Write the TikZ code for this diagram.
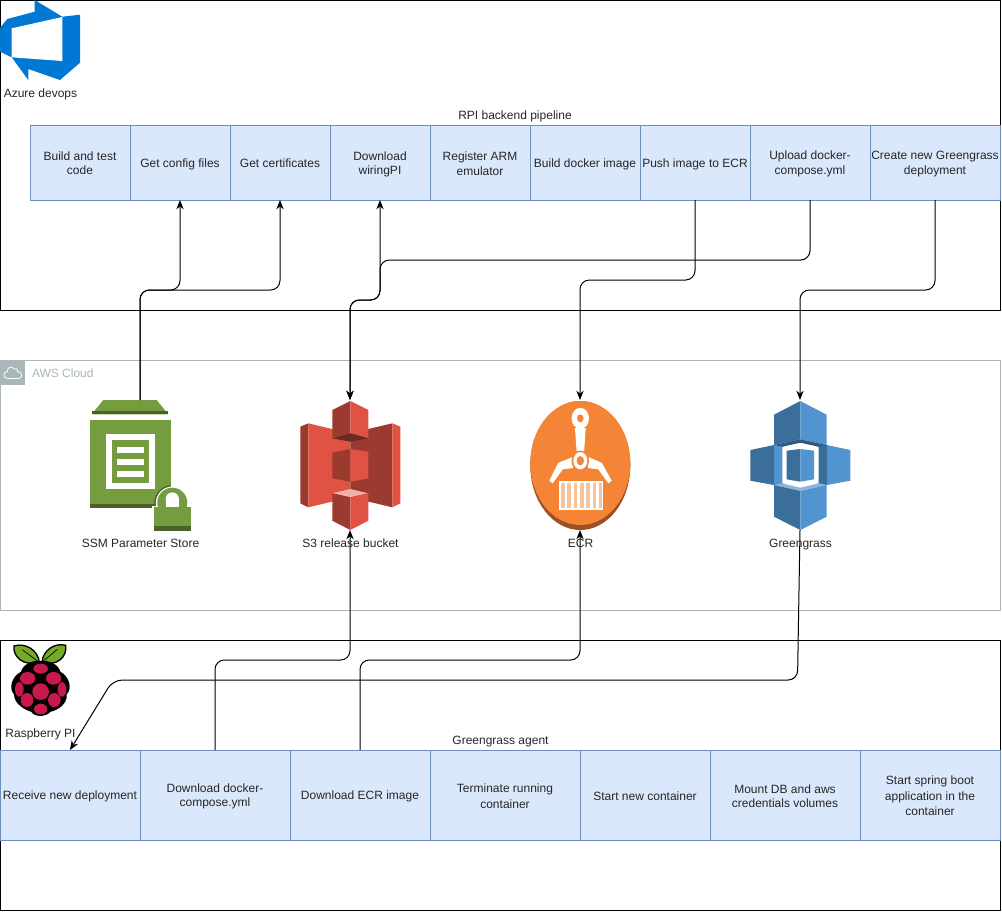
\documentclass[tikz,border=0pt]{standalone}
\usepackage{fontspec}
\setmainfont{Liberation Sans}
\usetikzlibrary{arrows.meta}
\definecolor{boxfill}{HTML}{DAE8FC}
\definecolor{boxline}{HTML}{6C8EBF}
\definecolor{awsgrey}{HTML}{AAB7B8}
\definecolor{azblue}{HTML}{0078D4}
\definecolor{ssmg}{HTML}{759C3E}
\definecolor{ssmd}{HTML}{4B612C}
\definecolor{s3l}{HTML}{E05243}
\definecolor{s3d}{HTML}{9B3A2E}
\definecolor{s3x}{HTML}{6B2A22}
\definecolor{s3p}{HTML}{F2B0A9}
\definecolor{ecro}{HTML}{F58536}
\definecolor{ecrd}{HTML}{9D5025}
\definecolor{ecrp}{HTML}{FBC399}
\definecolor{ggl}{HTML}{5294CF}
\definecolor{ggd}{HTML}{3B6E9B}
\definecolor{ggx}{HTML}{2E5A82}
\definecolor{ggp}{HTML}{8DB6DF}
\definecolor{rpg}{HTML}{75A928}
\definecolor{rpr}{HTML}{C51A4A}
\newcommand{\tl}{\rule[-0.8pt]{0pt}{9.6pt}}
\tikzset{
  x=0.75pt,y=-0.75pt,
  every node/.style={font=\fontsize{9}{10.5}\selectfont,align=center,inner sep=0pt,outer sep=0pt,text=black!85},
  frame/.style={draw=black,line width=0.75pt},
  awsframe/.style={draw=awsgrey,line width=0.75pt},
  procbox/.style={draw=boxline,fill=boxfill,line width=0.75pt,minimum width=#1*0.75pt},
  toprow/.style={procbox=#1,minimum height=56.25pt},
  botrow/.style={procbox=#1,minimum height=67.5pt},
  iconbox/.style={minimum width=75pt,minimum height=97.5pt},
  conn/.style={draw=black,line width=0.75pt,rounded corners=7pt,-{Stealth[length=7pt,width=5.5pt]}},
  conntwo/.style={draw=black,line width=0.75pt,rounded corners=7pt,{Stealth[length=7pt,width=5.5pt]}-{Stealth[length=7pt,width=5.5pt]}}
}
\begin{document}
\begin{tikzpicture}
\useasboundingbox (0,0) rectangle (1002,911);
\fill[white] (0,0) rectangle (1002,911);
% containers
\draw[frame] (0.5,0.5) rectangle (1000.5,310.5);
\draw[awsframe] (0.5,360.5) rectangle (1000.5,610.5);
\draw[frame] (0.5,640.5) rectangle (1000.5,910.5);
% Azure icon
\fill[azblue] (34.7,0)--(62.3,16.7)--(80,14.7)--(80,62.7)--(60,80)--(28.3,69)--(28.3,80)--(11.7,57.3)--(0,51.7)--(0,28)--(7.3,19)--(34.7,11.7)--cycle;
\fill[white] (11.7,28.3)--(62.3,17)--(62.3,61)--(11.7,57.3)--cycle;
% AWS tab
\fill[awsgrey] (0,360) rectangle (25,385);
\draw[white,line width=0.6pt] (7.5,371.5) .. controls (7,367) and (12,365.5) .. (14,369) .. controls (16,367.5) and (18.5,369) .. (17.5,371.5) .. controls (23,372) and (23,378.5) .. (18,378.5) -- (8,378.5) .. controls (2.5,378.5) and (2.5,372) .. (7.5,371.5) -- cycle;
% SSM icon
\node[iconbox] (ssm) at (140,465) {};
\fill[ssmg] (91.7,414.3)--(103.3,400)--(156.7,400)--(168.3,414.3)--cycle;
\fill[ssmd] (91.7,411)--(168.3,411)--(168.3,414.3)--(91.7,414.3)--cycle;
\fill[ssmg] (90,420) rectangle (170.7,504);
\fill[ssmd] (90,504) rectangle (170.7,508);
\fill[white] (106,434.3) rectangle (155.3,489);
\fill[ssmg] (111.7,440) rectangle (149.3,483.3);
\fill[white] (116.7,447) rectangle (144.3,452.7);
\fill[white] (116.7,459) rectangle (144.3,464.7);
\fill[white] (116.7,471) rectangle (144.3,477);
\begin{scope}
\clip (90,420) rectangle (170.7,508);
\fill[ssmd] (172.3,503) circle[radius=18];
\end{scope}
\fill[white] (172.3,503) circle[radius=16.5];
\fill[white] (152,506) rectangle (170.7,508.5);
\fill[ssmg] (172.3,502.7) circle[radius=15];
\fill[ssmg] (154,506.7) rectangle (190.7,526.3);
\fill[ssmd] (154,526.3) rectangle (190.7,530.7);
\fill[white] (172.3,499) circle[radius=6.7];
\fill[white] (165.6,499) rectangle (179,506.7);
% S3 icon
\node[iconbox] (s3) at (350,465) {};
\fill[s3d] (300.3,426.7)--(308.3,423.3)--(308.3,507.3)--(300.3,503.3)--cycle;
\fill[s3l] (308.3,423.3)--(350.3,433.3)--(350.3,497.3)--(308.3,507.3)--cycle;
\fill[s3d] (392.3,423.3)--(350.3,433.3)--(350.3,497.3)--(392.3,507.3)--cycle;
\fill[s3l] (392.3,423.3)--(400.3,426.7)--(400.3,503.3)--(392.3,507.3)--cycle;
\fill[s3d] (332.3,410)--(350.3,401)--(350.3,433.3)--(332.3,438.3)--cycle;
\fill[s3l] (368.3,410)--(350.3,401)--(350.3,433.3)--(368.3,438.3)--cycle;
\fill[s3x] (332.3,438.3)--(350.3,433.3)--(368.3,438.3)--(350.3,441.7)--cycle;
\fill[s3d] (332.3,452.7)--(350.3,449)--(350.3,481.7)--(332.3,478.3)--cycle;
\fill[s3l] (368.3,451.7)--(350.3,449)--(350.3,481.7)--(368.3,478.3)--cycle;
\fill[s3p] (332.3,493.3)--(350.3,489)--(368.3,493.3)--(350.3,497.3)--cycle;
\fill[s3d] (332.3,493.3)--(350.3,497.3)--(350.3,530)--(332.3,520.7)--cycle;
\fill[s3l] (368.3,493.3)--(350.3,497.3)--(350.3,530)--(368.3,520.7)--cycle;
% ECR icon
\node[iconbox] (ecr) at (580,465) {};
\fill[ecrd] (580.3,465.5) circle[x radius=50,y radius=64.5];
\fill[ecro] (580.3,463) circle[x radius=50,y radius=62];
\fill[white] (580.3,418.3) circle[x radius=8.7,y radius=10.5];
\fill[ecro] (580.3,418.3) circle[x radius=3.3,y radius=4];
\fill[white] (575,428)--(585.7,428)--(584,453.3)--(576.7,453.3)--cycle;
\fill[white] (573,457)--(558.3,462.7)--(549.3,480.7)--(552.7,483.3)--(562.7,469.3)--(573,468)--cycle;
\fill[white] (588,457)--(601.7,462.7)--(611.7,480.7)--(608.3,483.3)--(598.3,469.3)--(588,468)--cycle;
\fill[ecro] (580.3,460.7) circle[x radius=8.8,y radius=10.2];
\fill[white] (580.3,460.7) circle[x radius=7,y radius=8.6];
\fill[ecro] (580.3,460.7) circle[x radius=3.7,y radius=4.7];
\fill[white] (559,480.7) rectangle (602.7,510);
\foreach \sx in {561,567.3,573.6,579.9,586.2,592.5,598.8} {\fill[ecrp] (\sx,482.7) rectangle ++(3.6,25.3);}
% Greengrass icon
\node[iconbox] (gg) at (800,465) {};
\fill[ggd] (750.3,450)--(774,445)--(774,485)--(750.3,480.7)--cycle;
\fill[ggl] (850.3,450)--(826.7,445)--(826.7,485)--(850.3,480.7)--cycle;
\fill[ggd] (774,414.7)--(800.3,401)--(800.3,439.3)--(774,445)--cycle;
\fill[ggl] (826.7,414.7)--(800.3,401)--(800.3,439.3)--(826.7,445)--cycle;
\fill[ggl] (774,445) rectangle (785,485);
\fill[ggd] (815,445) rectangle (826.7,485);
\fill[white] (782.3,446.7)--(800.3,442.7)--(818.7,446.7)--(818.7,483.3)--(800.3,487.7)--(782.3,483.3)--cycle;
\fill[ggx] (774,445)--(800.3,439.3)--(826.7,445)--(818.7,446.7)--(800.3,442.7)--(782.3,446.7)--cycle;
\fill[ggp] (774,485)--(782.3,483.3)--(800.3,487.7)--(818.7,483.3)--(826.7,485)--(800.3,491)--cycle;
\fill[ggd] (786.7,450.7)--(800.3,449)--(800.3,481.7)--(786.7,479.3)--cycle;
\fill[ggl] (814,450.7)--(800.3,449)--(800.3,481.7)--(814,479.3)--cycle;
\fill[ggd] (774,485)--(800.3,491)--(800.3,530)--(774,516.7)--cycle;
\fill[ggl] (826.7,485)--(800.3,491)--(800.3,530)--(826.7,516.7)--cycle;
% Raspberry icon
\begin{scope}[shift={(0,635)},x=0.25pt,y=-0.25pt]
\draw[black,fill=rpg,line width=1pt] (118,82) .. controls (115,45) and (75,22) .. (42,33) .. controls (38,65) and (70,95) .. (118,82) -- cycle;
\draw[black,fill=rpg,line width=1pt] (126,82) .. controls (129,45) and (165,22) .. (197,31) .. controls (202,65) and (172,95) .. (126,82) -- cycle;
\draw[black,line width=0.5pt] (68,45) -- (115,80);
\draw[black,line width=0.5pt] (172,43) -- (128,80);
\fill[black] (122,78) .. controls (100,74) and (68,88) .. (63,110) .. controls (35,125) and (25,160) .. (42,178) .. controls (42,208) and (78,226) .. (93,230) .. controls (105,247) and (137,247) .. (152,230) .. controls (172,226) and (203,208) .. (200,178) .. controls (218,160) and (208,125) .. (181,110) .. controls (176,88) and (145,74) .. (122,78) -- cycle;
\fill[rpr] (122,101) circle[x radius=22,y radius=15];
\fill[rpr] (83,130) circle[x radius=23,y radius=19];
\fill[rpr] (161,130) circle[x radius=23,y radius=19];
\fill[rpr] (122,170) circle[radius=25];
\fill[rpr] (58,163) circle[x radius=13,y radius=22];
\fill[rpr] (186,163) circle[x radius=13,y radius=22];
\fill[rpr] (81,195) circle[x radius=19,y radius=21];
\fill[rpr] (163,195) circle[x radius=19,y radius=21];
\fill[rpr] (122,222) circle[x radius=20,y radius=16];
\end{scope}
% process boxes: pipeline
\node[toprow=100] (build) at (80,162.5) {\tl Build and test\\\tl code};
\node[toprow=100] (cfg) at (180,162.5) {\tl Get config files};
\node[toprow=100] (certs) at (280,162.5) {\tl Get certificates};
\node[toprow=100] (wiring) at (380,162.5) {\tl Download\\\tl wiringPI};
\node[toprow=100] (arm) at (480,162.5) {\tl Register ARM\\\tl emulator};
\node[toprow=110] (dimg) at (585,162.5) {\tl Build docker image};
\node[toprow=110] (push) at (695,162.5) {\tl Push image to ECR};
\node[toprow=120] (upload) at (810,162.5) {\tl Upload docker-\\\tl compose.yml};
\node[toprow=130] (deploy) at (935,162.5) {\tl Create new Greengrass\\\tl deployment};
% process boxes: agent
\node[botrow=140] (recv) at (70,795) {\tl Receive new deployment};
\node[botrow=150] (dcomp) at (215,795) {\tl Download docker-\\\tl compose.yml};
\node[botrow=140] (decr) at (360,795) {\tl Download ECR image};
\node[botrow=150] (term) at (505,795) {\tl Terminate running\\\tl container};
\node[botrow=130] (start) at (645,795) {\tl Start new container};
\node[botrow=150] (mount) at (785,795) {\tl Mount DB and aws\\\tl credentials volumes};
\node[botrow=140] (spring) at (930,795) {\tl Start spring boot\\\tl application in the\\\tl container};
% connectors
\draw[conn] (ssm.north) -- (140,290) -- (180,290) -- (cfg.south);
\draw[conn] (ssm.north) -- (140,290) -- (280,290) -- (certs.south);
\draw[conntwo] (wiring.south) -- (380,300) -- (350,300) -- (s3.north);
\draw[conn] (upload.south) -- (810,260) -- (380,260) -- (380,300) -- (350,300) -- (s3.north);
\draw[conn] (push.south) -- (695,280) -- (580,280) -- (ecr.north);
\draw[conn] (deploy.south) -- (935,290) -- (800,290) -- (gg.north);
\draw[conn] (gg.south) -- (797.5,680) -- (113,680) -- (recv.north);
\draw[conn] (dcomp.north) -- (215,660) -- (350,660) -- (s3.south);
\draw[conn] (decr.north) -- (360,660) -- (580,660) -- (ecr.south);
% labels
\node (lazure) at (40.5,92.5) {\tl Azure devops};
\node (lpipe) at (515,114.5) {\tl RPI backend pipeline};
\node[anchor=west,text=awsgrey] (laws) at (32,372.5) {\tl AWS Cloud};
\node (lssm) at (140.5,542.5) {\tl SSM Parameter Store};
\node (ls3) at (350.5,542.5) {\tl S3 release bucket};
\node (lecr) at (580.5,542.5) {\tl ECR};
\node (lgg) at (800.5,542.5) {\tl Greengrass};
\node (lrpi) at (40.5,732.5) {\tl Raspberry PI};
\node (lagent) at (500.5,739.5) {\tl Greengrass agent};
\end{tikzpicture}
\end{document}
